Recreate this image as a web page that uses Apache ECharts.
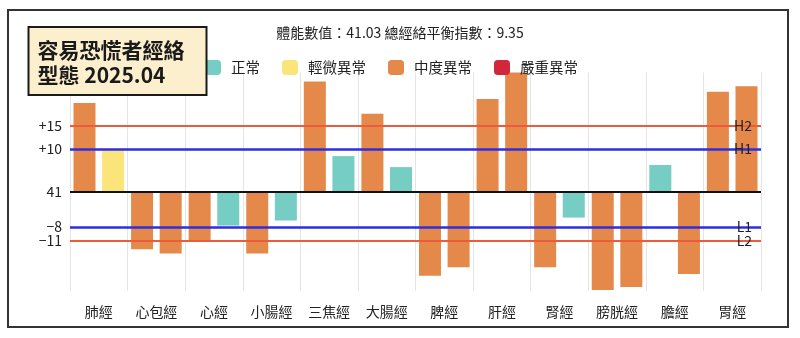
<!DOCTYPE html>
<html><head><meta charset="utf-8">
<script src="https://cdn.jsdelivr.net/npm/echarts@6/dist/echarts.min.js"></script>
<style>html,body{margin:0;padding:0;background:#fff}#c{width:800px;height:338px}</style>
</head><body><div id="c"></div>
<script>
const categories = ['肺經','心包經','心經','小腸經','三焦經','大腸經','脾經','肝經','腎經','膀胱經','膽經','胃經'];
const leftValues = [20.8, -13.7, -11.6, -14.7, 25.9, 18.3, -19.9, 21.8, -17.9, -23.3, 6.2, 23.5];
const rightValues = [9.7, -14.7, -8.1, -6.9, 8.3, 5.7, -17.9, 28.0, -6.2, -22.6, -19.5, 24.8];
const leftStatus = [2,2,2,2,2,2,2,2,2,2,0,2];
const rightStatus = [1,2,0,0,0,0,2,2,0,2,2,2];
const statusNames = ['正常','輕微異常','中度異常','嚴重異常'];
const statusColors = ['#76CDC4','#FBE57A','#E5894A','#D0283A'];
const thresholdValues = [15.5, 10, -8.4, -11.65];
const thresholdTicks = ['+15','+10','−8','−11'];
const thresholdNames = ['H2','H1','L1','L2'];
const thresholdColors = ['#EE5A3C','#2E2EE0','#2E2EE0','#EE5A3C'];
const thresholdWidths = [2, 2.5, 2.5, 2];
const centerLabel = '41';
const titleText = '容易恐慌者經絡\n型態 2025.04';
const subtitleText = '體能數值：41.03 總經絡平衡指數：9.35';

const FONT = '"Noto Sans CJK TC", "Noto Sans", sans-serif';
const chart = echarts.init(document.getElementById('c'), null, {renderer: 'canvas'});

function barData(values, status) {
  return values.map((v, i) => ({value: v, itemStyle: {color: statusColors[status[i]]}}));
}

const markData = [];
markData.push({yAxis: 0, lineStyle: {color: '#111', width: 2, type: 'solid'},
  label: {show: true, position: 'start', formatter: centerLabel, distance: 8}});
thresholdValues.forEach((v, i) => {
  markData.push({yAxis: v, lineStyle: {color: thresholdColors[i], width: thresholdWidths[i], type: 'solid'},
    label: {show: true, position: 'start', formatter: thresholdTicks[i], distance: 8}});
  markData.push({yAxis: v, lineStyle: {color: 'rgba(0,0,0,0)', width: 1, type: 'solid'},
    label: {show: true, position: 'insideEnd', formatter: thresholdNames[i], distance: 9, color: '#222'}});
});

const legendSeries = statusNames.map((n, i) => ({
  name: n, type: 'line', data: [],
  itemStyle: {color: statusColors[i]}, lineStyle: {color: statusColors[i]}
}));

chart.setOption({
  animation: false,
  backgroundColor: '#fff',
  textStyle: {fontFamily: FONT},
  title: [
    {text: titleText, left: 28.5, top: 27, backgroundColor: '#FCEFCD', borderColor: '#1a1a1a', borderWidth: 2,
     padding: [10, 22, 7, 9],
     textStyle: {fontSize: 21, fontWeight: 'bold', color: '#1a1a1a', lineHeight: 25.5, fontFamily: FONT}},
    {text: subtitleText, left: 'center', top: 21,
     textStyle: {fontSize: 14, fontWeight: 'normal', color: '#222', fontFamily: FONT}}
  ],
  legend: {
    data: statusNames, left: 200, top: 55, icon: 'roundRect', itemWidth: 16, itemHeight: 15, itemGap: 22,
    textStyle: {fontSize: 14.5, color: '#222', padding: [0, 0, 0, 5], fontFamily: FONT}
  },
  graphic: [{type: 'rect', shape: {x: 8, y: 10, width: 780, height: 317},
    style: {fill: 'none', stroke: '#333', lineWidth: 2}, z: 100, silent: true}],
  grid: {left: 70, right: 39, top: 72.6, bottom: 47.1, containLabel: false},
  xAxis: {
    type: 'category', data: categories,
    axisLine: {show: false}, axisTick: {show: false},
    axisLabel: {interval: 0, margin: 14, fontSize: 14, color: '#222', fontFamily: FONT},
    splitLine: {show: true, interval: 0, lineStyle: {color: '#e4e4e4', width: 1}}
  },
  yAxis: {
    type: 'value', min: -23.5, max: 28,
    axisLine: {show: false}, axisTick: {show: false}, axisLabel: {show: false}, splitLine: {show: false}
  },
  series: [
    {name: '左', type: 'bar', data: barData(leftValues, leftStatus), barWidth: 22, barGap: '30%',
     markLine: {silent: true, symbol: 'none', animation: false,
       label: {color: '#222', fontSize: 14, fontFamily: FONT}, data: markData}},
    {name: '右', type: 'bar', data: barData(rightValues, rightStatus), barWidth: 22, barGap: '30%'}
  ].concat(legendSeries)
});
</script></body></html>
